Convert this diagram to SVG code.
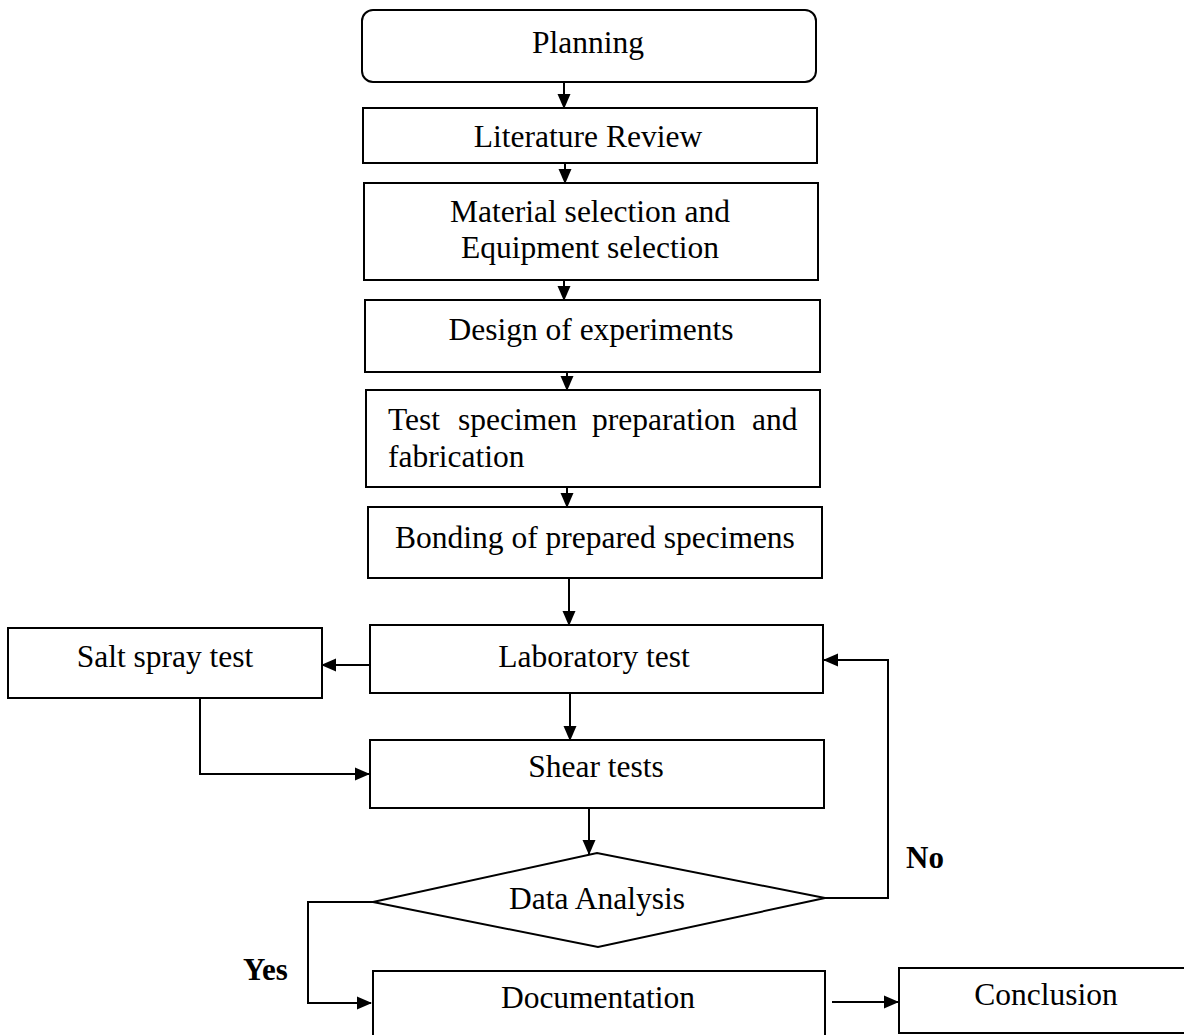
<svg xmlns="http://www.w3.org/2000/svg" width="1184" height="1035" viewBox="0 0 1184 1035">
<defs>
<style>
.box{fill:#fff;stroke:#000;stroke-width:2}
.t{font-family:"Liberation Serif","Times New Roman",serif;font-size:31.5px;fill:#000;text-anchor:middle}
.lbl{font-family:"Liberation Serif","Times New Roman",serif;font-size:31px;font-weight:bold;fill:#000}
.c{fill:none;stroke:#000;stroke-width:2}
</style>
<marker id="ah" markerWidth="15" markerHeight="15" refX="14" refY="7.5" orient="auto" markerUnits="userSpaceOnUse">
<path d="M0,1 L15,7.5 L0,14 Z" fill="#000"/>
</marker>
</defs>
<rect width="1184" height="1035" fill="#fff"/>
<g id="connectors">
<path class="c" d="M564,82 V108" marker-end="url(#ah)"/>
<path class="c" d="M565,163 V183" marker-end="url(#ah)"/>
<path class="c" d="M564,280 V300" marker-end="url(#ah)"/>
<path class="c" d="M567,372 V390" marker-end="url(#ah)"/>
<path class="c" d="M567,487 V507" marker-end="url(#ah)"/>
<path class="c" d="M569,578 V625" marker-end="url(#ah)"/>
<path class="c" d="M370,665 H322" marker-end="url(#ah)"/>
<path class="c" d="M570,693 V740" marker-end="url(#ah)"/>
<path class="c" d="M200,698 V774 H369" marker-end="url(#ah)"/>
<path class="c" d="M589,808 V854" marker-end="url(#ah)"/>
<path class="c" d="M373,902 H308 V1003 H371" marker-end="url(#ah)"/>
<path class="c" d="M825,898 H888 V660 H824" marker-end="url(#ah)"/>
<path class="c" d="M832,1002 H898" marker-end="url(#ah)"/>
</g>
<g id="planning"><rect class="box" x="362" y="10" width="454" height="72" rx="11"/><text class="t" x="588" y="53">Planning</text></g>
<g id="literature"><rect class="box" x="363" y="108" width="454" height="55"/><text class="t" x="588" y="147">Literature Review</text></g>
<g id="material"><rect class="box" x="364" y="183" width="454" height="97"/><text class="t" x="590" y="222">Material selection and</text><text class="t" x="590" y="258">Equipment selection</text></g>
<g id="design"><rect class="box" x="365" y="300" width="455" height="72"/><text class="t" x="591" y="340">Design of experiments</text></g>
<g id="specimen"><rect class="box" x="366" y="390" width="454" height="97"/><text class="t" style="text-anchor:start" y="430"><tspan x="388">Test</tspan><tspan x="458">specimen</tspan><tspan x="592">preparation</tspan><tspan x="752">and</tspan></text><text class="t" style="text-anchor:start" x="388" y="467">fabrication</text></g>
<g id="bonding"><rect class="box" x="368" y="507" width="454" height="71"/><text class="t" x="595" y="548">Bonding of prepared specimens</text></g>
<g id="laboratory"><rect class="box" x="370" y="625" width="453" height="68"/><text class="t" x="594" y="667">Laboratory test</text></g>
<g id="saltspray"><rect class="box" x="8" y="628" width="314" height="70"/><text class="t" x="165" y="667">Salt spray test</text></g>
<g id="shear"><rect class="box" x="370" y="740" width="454" height="68"/><text class="t" x="596" y="777">Shear tests</text></g>
<g id="analysis"><polygon class="box" points="373,902 597,853 825,898 598,947"/><text class="t" x="597" y="909">Data Analysis</text></g>
<g id="documentation"><rect class="box" x="373" y="971" width="452" height="80"/><text class="t" x="598" y="1008">Documentation</text></g>
<g id="conclusion"><rect class="box" x="899" y="968" width="300" height="65"/><text class="t" x="1046" y="1005">Conclusion</text></g>
<g id="labels"><text class="lbl" x="906" y="868">No</text><text class="lbl" x="243" y="980">Yes</text></g>
</svg>
